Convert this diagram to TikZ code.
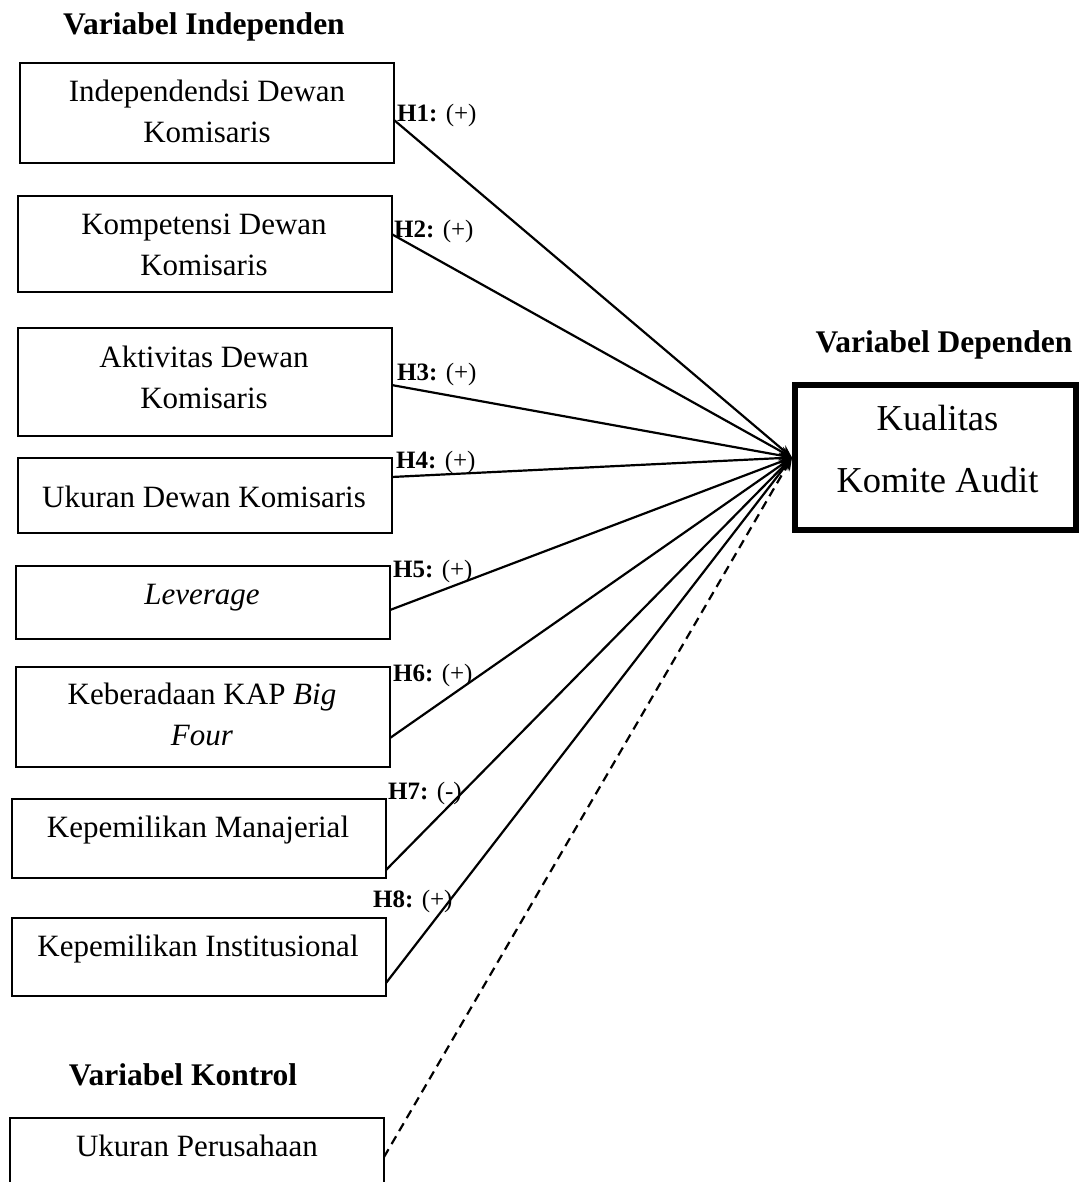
\documentclass[tikz,border=0pt]{standalone}
\usepackage{fontspec}
\setmainfont{Liberation Serif}
\usetikzlibrary{arrows.meta,calc}
\begin{document}
\begin{tikzpicture}[x=1pt,y=-1pt,
  box/.style={draw,line width=2pt,minimum width=374pt,inner sep=0pt,outer sep=0pt},
  depbox/.style={draw,line width=6pt,minimum width=281pt,minimum height=145pt,inner sep=0pt},
  tx/.style={font=\fontsize{31}{41}\selectfont,align=center,anchor=base,inner sep=0pt},
  deptx/.style={font=\fontsize{36.5}{62}\selectfont,align=center,anchor=base,inner sep=0pt},
  lab/.style={font=\fontsize{25}{30}\selectfont,anchor=base west,inner sep=0pt},
  ttl/.style={font=\fontsize{31.5}{36}\selectfont\bfseries,anchor=base,inner sep=0pt},
  arr/.style={line width=2.2pt,-{Stealth[length=13pt,width=10pt]}},
  darr/.style={arr,dash pattern=on 9pt off 6pt}]
\useasboundingbox (0,0) rectangle (1079,1182);
\clip (0,0) rectangle (1079,1182);
% titles
\node[ttl] (tind) at (204,35) {Variabel Independen};
\node[ttl] (tdep) at (944,352) {Variabel Dependen};
\node[ttl] (tkon) at (183,1085) {Variabel Kontrol};
% boxes
\node[box,minimum height=100pt] (b1) at (207,113) {};
\node[box,minimum height=96pt] (b2) at (204.5,244) {};
\node[box,minimum height=108pt] (b3) at (204.5,382) {};
\node[box,minimum height=75pt] (b4) at (204.5,495.5) {};
\node[box,minimum height=73pt] (b5) at (203,602.5) {};
\node[box,minimum height=100pt] (b6) at (203,717) {};
\node[box,minimum height=79pt] (b7) at (199,838.5) {};
\node[box,minimum height=78pt] (b8) at (199,957) {};
\node[box,minimum height=102pt] (b9) at (197,1169) {};
\node[depbox] (dep) at (935.5,457.5) {};
% texts (anchor base = baseline of last line)
\node[tx] (x1) at (207,143) {Independendsi Dewan\\Komisaris};
\node[tx] (x2) at (204,275) {Kompetensi Dewan\\Komisaris};
\node[tx] (x3) at (204,408) {Aktivitas Dewan\\Komisaris};
\node[tx] (x4) at (204,507) {Ukuran Dewan Komisaris};
\node[tx] (x5) at (202,604) {\itshape Leverage};
\node[tx] (x6) at (202,745) {Keberadaan KAP \textit{Big}\\\textit{Four}};
\node[tx] (x7) at (198,837) {Kepemilikan Manajerial};
\node[tx] (x8) at (198,956) {Kepemilikan Institusional};
\node[tx] (x9) at (197,1156) {Ukuran Perusahaan};
\node[deptx] (xd) at (937.5,492) {Kualitas\\Komite Audit};
% connectors
\draw[arr] ($(b1.east)+(0,7)$) -- (dep.west);
\draw[arr] ($(b2.east)+(0,-10)$) -- (dep.west);
\draw[arr] ($(b3.east)+(0,3)$) -- (dep.west);
\draw[arr] ($(b4.east)+(0,-18.5)$) -- (dep.west);
\draw[arr] ($(b5.east)+(0,7.5)$) -- (dep.west);
\draw[arr] ($(b6.east)+(0,21)$) -- (dep.west);
\draw[arr] ($(b7.east)+(0,31.5)$) -- (dep.west);
\draw[arr] ($(b8.east)+(0,26)$) -- (dep.west);
\draw[darr] ($(b9.east)+(0,-12)$) -- (dep.west);
% labels
\node[lab] (h1) at (397,122) {\textbf{H1:} (+)};
\node[lab] (h2) at (394,237) {\textbf{H2:} (+)};
\node[lab] (h3) at (397,380) {\textbf{H3:} (+)};
\node[lab] (h4) at (396,468) {\textbf{H4:} (+)};
\node[lab] (h5) at (393,577) {\textbf{H5:} (+)};
\node[lab] (h6) at (393,681) {\textbf{H6:} (+)};
\node[lab] (h7) at (388,799) {\textbf{H7:} (-)};
\node[lab] (h8) at (373,907) {\textbf{H8:} (+)};
\end{tikzpicture}
\end{document}
